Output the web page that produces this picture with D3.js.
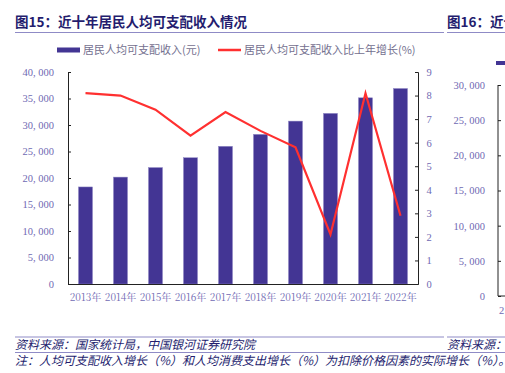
<!DOCTYPE html>
<html>
<head>
<meta charset="utf-8">
<script src="https://cdn.jsdelivr.net/npm/d3@7/dist/d3.min.js"></script>
<style>
  html, body { margin: 0; padding: 0; background: #fff; }
  svg { display: block; }
</style>
</head>
<body>
<div id="chart"></div>
<script>
// data
const years = ['2013年', '2014年', '2015年', '2016年', '2017年', '2018年', '2019年', '2020年', '2021年', '2022年']
const income = [18311, 20167, 21966, 23821, 25974, 28228, 30733, 32189, 35128, 36883]
const growth = [8.1, 8.0, 7.4, 6.3, 7.3, 6.5, 5.8, 2.1, 8.1, 2.9]
const leftTicks = [0, 5000, 10000, 15000, 20000, 25000, 30000, 35000, 40000]
const rightTicks = [0, 1, 2, 3, 4, 5, 6, 7, 8, 9]
const nextTicks = [0, 5000, 10000, 15000, 20000, 25000, 30000]

const W = 505, H = 373
const navy = '#241d6e'
const barColor = '#433594'
const lineColor = '#ff3030'
const tickText = '#6f69b3'
const cjk = '"Noto Sans CJK SC", "Noto Sans", sans-serif'
const serif = '"Liberation Serif", "DejaVu Serif", serif'

let svg = d3.select('#chart').append('svg')
    .attr('width', W)
    .attr('height', H)

let fmt = function (d) { return d3.format(',')(d).replace(',', ', ') }

// title block
svg.append('text').attr('x', 15).attr('y', 27)
    .attr('font-family', cjk).attr('font-weight', 'bold').attr('font-size', 13.5)
    .attr('fill', navy).text('图15：近十年居民人均可支配收入情况')
svg.append('text').attr('x', 447).attr('y', 27)
    .attr('font-family', cjk).attr('font-weight', 'bold').attr('font-size', 13.5)
    .attr('fill', navy).text('图16：近十')
svg.append('line').attr('x1', 15).attr('x2', 444).attr('y1', 32.5).attr('y2', 32.5)
    .attr('stroke', '#8f8bc6').attr('stroke-width', 1)
svg.append('line').attr('x1', 447).attr('x2', W).attr('y1', 32.5).attr('y2', 32.5)
    .attr('stroke', '#8f8bc6').attr('stroke-width', 1)

// scales
let x = d3.scaleBand().domain(years).range([68, 418]).paddingInner(0.6).paddingOuter(0.3)
let xc = d3.scalePoint().domain(years).range([68, 418]).padding(0.5)
let yL = d3.scaleLinear().domain([0, 40000]).range([284, 72])
let yR = d3.scaleLinear().domain([0, 9]).range([284, 72])

// bars
svg.append('g').selectAll('rect')
    .data(income)
    .enter()
    .append('rect')
    .attr('x', function (d, i) { return xc(years[i]) - 7 })
    .attr('width', 14)
    .attr('y', function (d) { return yL(d) })
    .attr('height', function (d) { return yL(0) - yL(d) })
    .attr('fill', barColor)
    .attr('stroke', '#8d86c4')
    .attr('stroke-width', 0.5)

// growth line
let line = d3.line()
    .x(function (d, i) { return xc(years[i]) })
    .y(function (d) { return yR(d) })
svg.append('path')
    .datum(growth)
    .attr('d', line)
    .attr('fill', 'none')
    .attr('stroke', lineColor)
    .attr('stroke-width', 2.2)
    .attr('stroke-linejoin', 'miter')

function styleAxis(g) {
    g.select('.domain').attr('stroke', '#222').attr('stroke-width', 1)
    g.selectAll('.tick line').attr('stroke', '#222')
    g.selectAll('.tick text').attr('fill', tickText)
        .attr('font-family', serif).attr('font-size', 10.5)
}

// left axis (ticks inward)
let gl = svg.append('g').attr('transform', 'translate(68,0)')
    .call(d3.axisRight(yL).tickValues(leftTicks).tickSize(3).tickSizeOuter(3).tickFormat(fmt))
styleAxis(gl)
gl.selectAll('.tick text').attr('text-anchor', 'end').attr('x', -14)

// right axis (ticks inward)
let gr = svg.append('g').attr('transform', 'translate(418,0)')
    .call(d3.axisLeft(yR).tickValues(rightTicks).tickSize(3).tickSizeOuter(3))
styleAxis(gr)
gr.selectAll('.tick text').attr('text-anchor', 'middle').attr('x', 11)

// bottom axis
let gb = svg.append('g').attr('transform', 'translate(0,284)')
    .call(d3.axisBottom(x).tickSize(0).tickSizeOuter(0))
styleAxis(gb)
gb.selectAll('.tick text').attr('font-family', '"Noto Serif CJK SC", ' + serif)
    .attr('font-size', 10).attr('dy', 0).attr('y', 17)

// legend
svg.append('rect').attr('x', 57).attr('y', 47.5).attr('width', 23).attr('height', 5).attr('fill', barColor)
svg.append('text').attr('x', 83).attr('y', 54)
    .attr('font-family', cjk).attr('font-size', 11).attr('fill', '#74708f')
    .text('居民人均可支配收入(元)')
svg.append('line').attr('x1', 218).attr('x2', 241).attr('y1', 50).attr('y2', 50)
    .attr('stroke', lineColor).attr('stroke-width', 2.5)
svg.append('text').attr('x', 244).attr('y', 54)
    .attr('font-family', cjk).attr('font-size', 11).attr('fill', '#74708f')
    .text('居民人均可支配收入比上年增长(%)')

// next chart peeking in at the right edge
let yN = d3.scaleLinear().domain([0, 30000]).range([296, 85])
let gn = svg.append('g').attr('transform', 'translate(498,0)')
    .call(d3.axisRight(yN).tickValues(nextTicks).tickSize(3).tickSizeOuter(0).tickFormat(fmt))
styleAxis(gn)
gn.select('.domain').attr('d', 'M0,' + yN(30000) + 'V' + yN(0) + 'H10')
gn.selectAll('.tick text').attr('text-anchor', 'end').attr('x', -13)
svg.append('rect').attr('x', 496).attr('y', 61).attr('width', 12).attr('height', 4).attr('fill', barColor)
svg.append('text').attr('x', 499).attr('y', 314)
    .attr('font-family', serif).attr('font-size', 10.5).attr('fill', tickText).text('2')

// footer
svg.append('line').attr('x1', 15).attr('x2', 444).attr('y1', 337).attr('y2', 337)
    .attr('stroke', '#8f8bc6').attr('stroke-width', 1)
svg.append('line').attr('x1', 447).attr('x2', W).attr('y1', 337).attr('y2', 337)
    .attr('stroke', '#8f8bc6').attr('stroke-width', 1)
svg.append('line').attr('x1', 15).attr('x2', W).attr('y1', 352.5).attr('y2', 352.5)
    .attr('stroke', '#8f8bc6').attr('stroke-width', 1)
svg.append('text').attr('x', 15).attr('y', 349)
    .attr('font-family', cjk).attr('font-size', 12).attr('font-style', 'italic').attr('fill', navy)
    .text('资料来源：国家统计局，中国银河证券研究院')
svg.append('text').attr('x', 447).attr('y', 349)
    .attr('font-family', cjk).attr('font-size', 12).attr('font-style', 'italic').attr('fill', navy)
    .text('资料来源：')
svg.append('text').attr('x', 15).attr('y', 365)
    .attr('font-family', cjk).attr('font-size', 12).attr('font-style', 'italic').attr('fill', navy)
    .text('注：人均可支配收入增长（%）和人均消费支出增长（%）为扣除价格因素的实际增长（%）。')
</script>
</body>
</html>
